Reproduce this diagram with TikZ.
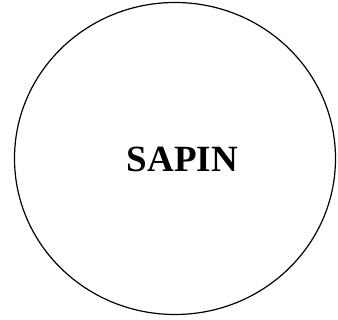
\documentclass[tikz,border=0pt]{standalone}
\usepackage{fontspec}
\setmainfont{Liberation Serif}
\usepackage{tikz}

\begin{document}
\begin{tikzpicture}[x=1pt,y=1pt]
\useasboundingbox (0,0) rectangle (338,320);

% Outer circle
\draw[line width=1.2pt] (175,161.5) ellipse (160.5 and 156);

% Label
\node[font=\fontsize{37}{40}\selectfont\bfseries, inner sep=0pt] (sapin) at (182.5,160.5) {SAPIN};

\end{tikzpicture}
\end{document}
